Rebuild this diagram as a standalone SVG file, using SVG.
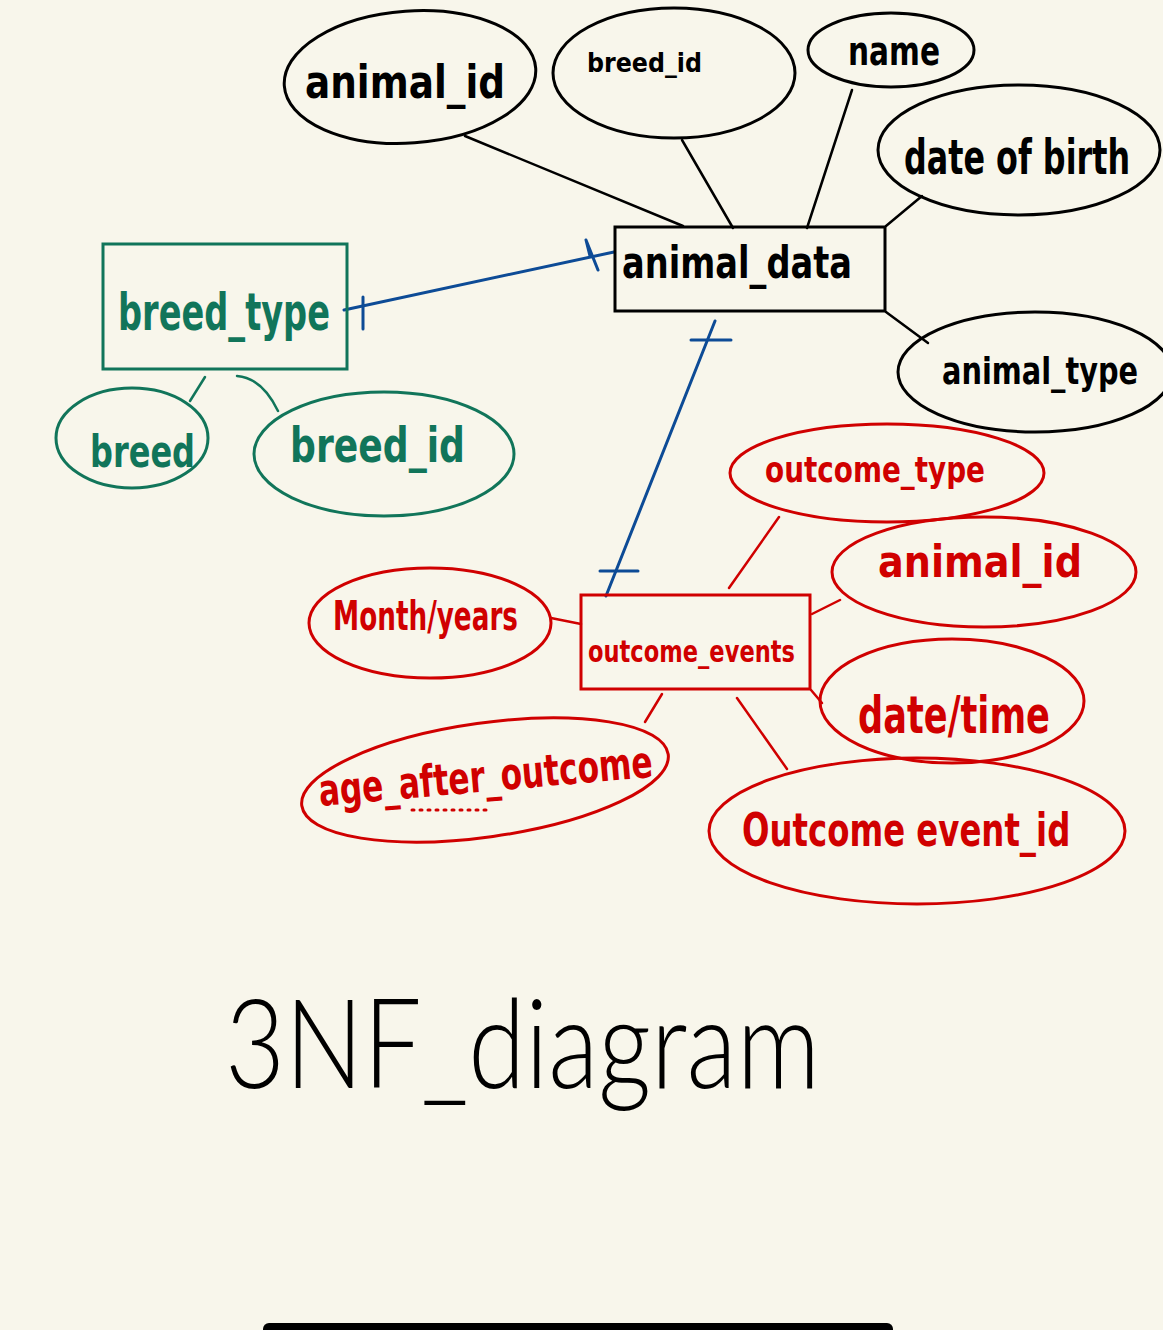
<svg xmlns="http://www.w3.org/2000/svg" width="1163" height="1330" viewBox="0 0 1163 1330">
<style>
.bk{fill:none;stroke:#000;stroke-width:3}
.gr{fill:none;stroke:#11755a;stroke-width:3}
.rd{fill:none;stroke:#d00000;stroke-width:3}
.bl{fill:none;stroke:#0d4b96;stroke-width:3;stroke-linecap:round}
.lk{stroke-width:2.5;fill:none;stroke-linecap:round}
.t{font-family:"DejaVu Sans","Liberation Sans",sans-serif;font-weight:bold}
.tb{fill:#000}.tg{fill:#11755a}.tr{fill:#d00000}
</style>
<rect x="0" y="0" width="1163" height="1330" fill="#f8f6eb"/>

<g id="connectors">
  <line class="lk" stroke="#000" x1="465" y1="136" x2="683" y2="226"/>
  <line class="lk" stroke="#000" x1="682" y1="140" x2="733" y2="228"/>
  <line class="lk" stroke="#000" x1="852" y1="90" x2="807" y2="228"/>
  <line class="lk" stroke="#000" x1="922" y1="196" x2="886" y2="226"/>
  <line class="lk" stroke="#000" x1="886" y1="312" x2="928" y2="343"/>
  <line class="lk" stroke="#11755a" x1="205" y1="377" x2="190" y2="401"/>
  <path class="lk" stroke="#11755a" d="M237,376 Q262,378 278,411"/>
  <line class="bl" x1="344" y1="310" x2="614" y2="252"/>
  <line class="bl" x1="363" y1="297" x2="363" y2="329"/>
  <path class="bl" d="M586,240 L590,256 M586,240 L598,270"/>
  <line class="bl" x1="715" y1="321" x2="606" y2="596"/>
  <line class="bl" x1="691" y1="340" x2="731" y2="340"/>
  <line class="bl" x1="600" y1="571" x2="638" y2="571"/>
  <line class="lk" stroke="#d00000" x1="779" y1="517" x2="729" y2="588"/>
  <line class="lk" stroke="#d00000" x1="840" y1="600" x2="812" y2="614"/>
  <line class="lk" stroke="#d00000" x1="811" y1="690" x2="822" y2="703"/>
  <line class="lk" stroke="#d00000" x1="737" y1="698" x2="787" y2="769"/>
  <line class="lk" stroke="#d00000" x1="551" y1="618" x2="581" y2="624"/>
  <line class="lk" stroke="#d00000" x1="662" y1="694" x2="645" y2="722"/>
</g>

<g id="animal_data">
  <rect class="bk" x="615" y="227" width="270" height="84"/>
  <text class="t tb" x="622" y="278" font-size="44" textLength="230" lengthAdjust="spacingAndGlyphs">animal_data</text>
</g>
<g id="attr_animal_id">
  <ellipse class="bk" cx="410" cy="77" rx="126" ry="66" transform="rotate(-4 410 77)"/>
  <text class="t tb" x="305" y="98" font-size="46" textLength="200" lengthAdjust="spacingAndGlyphs">animal_id</text>
</g>
<g id="attr_breed_id">
  <ellipse class="bk" cx="674" cy="73" rx="121" ry="65"/>
  <text class="t tb" x="587" y="72" font-size="26" textLength="115" lengthAdjust="spacingAndGlyphs">breed_id</text>
</g>
<g id="attr_name">
  <ellipse class="bk" cx="891" cy="50" rx="83" ry="37"/>
  <text class="t tb" x="848" y="65" font-size="40" textLength="92" lengthAdjust="spacingAndGlyphs">name</text>
</g>
<g id="attr_dob">
  <ellipse class="bk" cx="1019" cy="150" rx="141" ry="65"/>
  <text class="t tb" transform="translate(904,174) scale(0.7,1)" x="0" y="0" font-size="48" textLength="323" lengthAdjust="spacingAndGlyphs">date of birth</text>
</g>
<g id="attr_animal_type">
  <ellipse class="bk" cx="1035" cy="372" rx="137" ry="60"/>
  <text class="t tb" transform="translate(942,384) scale(0.7,1)" x="0" y="0" font-size="38" textLength="280" lengthAdjust="spacingAndGlyphs">animal_type</text>
</g>

<g id="breed_type">
  <rect class="gr" x="103" y="244" width="244" height="125"/>
  <text class="t tg" x="118" y="330" font-size="52" textLength="212" lengthAdjust="spacingAndGlyphs">breed_type</text>
</g>
<g id="attr_breed">
  <ellipse class="gr" cx="132" cy="438" rx="76" ry="50"/>
  <text class="t tg" x="90" y="467" font-size="44" textLength="105" lengthAdjust="spacingAndGlyphs">breed</text>
</g>
<g id="attr_breed_id_g">
  <ellipse class="gr" cx="384" cy="454" rx="130" ry="62"/>
  <text class="t tg" x="290" y="462" font-size="48" textLength="175" lengthAdjust="spacingAndGlyphs">breed_id</text>
</g>

<g id="outcome_events">
  <rect class="rd" x="581" y="595" width="229" height="94"/>
  <text class="t tr" x="588" y="662" font-size="30" textLength="207" lengthAdjust="spacingAndGlyphs">outcome_events</text>
</g>
<g id="attr_outcome_type">
  <ellipse class="rd" cx="887" cy="473" rx="157" ry="49"/>
  <text class="t tr" x="765" y="482" font-size="36" textLength="220" lengthAdjust="spacingAndGlyphs">outcome_type</text>
</g>
<g id="attr_animal_id_r">
  <ellipse class="rd" cx="984" cy="572" rx="152" ry="55"/>
  <text class="t tr" x="878" y="577" font-size="44" textLength="204" lengthAdjust="spacingAndGlyphs">animal_id</text>
</g>
<g id="attr_datetime">
  <ellipse class="rd" cx="952" cy="701" rx="132" ry="62"/>
  <text class="t tr" x="858" y="733" font-size="52" textLength="192" lengthAdjust="spacingAndGlyphs">date/time</text>
</g>
<g id="attr_outcome_event_id">
  <ellipse class="rd" cx="917" cy="831" rx="208" ry="73"/>
  <text class="t tr" transform="translate(742,846) scale(0.7,1)" x="0" y="0" font-size="46" textLength="469" lengthAdjust="spacingAndGlyphs">Outcome event_id</text>
</g>
<g id="attr_month_years">
  <ellipse class="rd" cx="430" cy="623" rx="121" ry="55"/>
  <text class="t tr" x="333" y="630" font-size="40" textLength="185" lengthAdjust="spacingAndGlyphs">Month/years</text>
</g>
<g id="attr_age_after_outcome">
  <ellipse class="rd" cx="485" cy="780" rx="185" ry="57" transform="rotate(-8 485 780)"/>
  <text class="t tr" x="320" y="806" font-size="44" textLength="335" lengthAdjust="spacingAndGlyphs" transform="rotate(-5 320 806)">age_after_outcome</text>
  <line x1="412" y1="810" x2="492" y2="810" stroke="#d00000" stroke-width="3" stroke-dasharray="2 6" stroke-linecap="round"/>
</g>

<g id="title">
  <text x="225" y="1088" font-family="Lato,'Noto Sans',sans-serif" font-weight="300" font-size="125" fill="#000" textLength="595" lengthAdjust="spacingAndGlyphs">3NF_diagram</text>
</g>
<rect x="263" y="1323" width="630" height="14" rx="6" fill="#000"/>
</svg>
